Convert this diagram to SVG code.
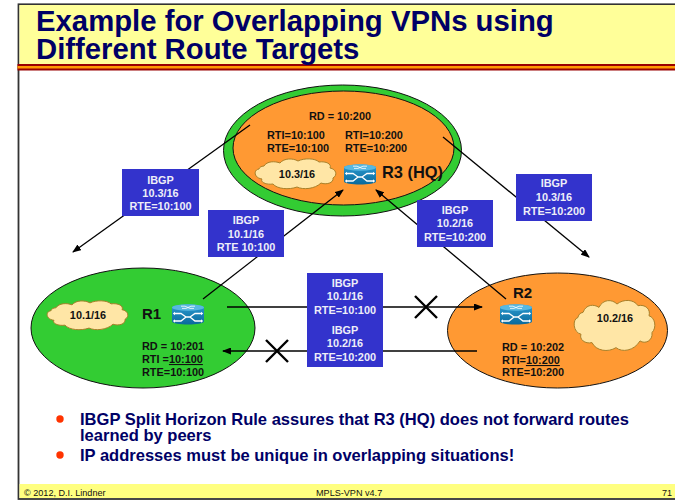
<svg xmlns="http://www.w3.org/2000/svg" width="675" height="502" viewBox="0 0 675 502">
<style>
text{font-family:"Liberation Sans",Arial,sans-serif;font-weight:bold}
.t{font-size:10.9px;fill:#111}
.w{font-size:10.9px;fill:#eeeef8;text-anchor:middle}
.c{text-anchor:middle}
.big{font-size:16.4px;fill:#111}
.r{font-size:15px;fill:#111}
.h{font-size:29.3px;fill:#000066}
.b{font-size:16.55px;fill:#000066}
.f{font-size:9.1px;font-weight:normal;fill:#111}
.e{stroke:#111;stroke-width:1}
.box{fill:#3333cc}
.l{stroke:#000;stroke-width:1.3;fill:none}
.x{stroke:#000;stroke-width:2.4;fill:none}
.cl{fill:#ffe6a6;stroke:#a8802a;stroke-width:1}
</style>
<defs>
<marker id="a" markerWidth="9" markerHeight="7" refX="8" refY="3.5" orient="auto" markerUnits="userSpaceOnUse"><path d="M0 0L9 3.5L0 7z" fill="#000"/></marker>
<linearGradient id="rg" x1="0" y1="0" x2="0" y2="1"><stop offset="0" stop-color="#2a9ad0"/><stop offset="1" stop-color="#0a6a9c"/></linearGradient>
<symbol id="router" viewBox="0 0 32 21" width="32" height="21" overflow="visible">
<path d="M0 3.5C0 -.5 32 -.5 32 3.5V17.500C32 21.500 0 21.500 0 17.500z" fill="url(#rg)"/>
<ellipse cx="16" cy="3.500" rx="16" ry="3.200" fill="#58b8e0"/>
<path d="M9 2.200H13L18 4.400H22M23 2.200H19L14 4.400H10" stroke="#fff" stroke-width=".8" fill="none"/>
<path d="M3 9.500H9L14 13L9 17H3M29 9.500H23L18 13L23 17H29M14 13H18" stroke="#fff" stroke-width="1.300" fill="none"/>
<path d="M3 7.800V11.200L.8 9.500zM3 15.300V18.700L.8 17zM29 7.800V11.200L31.200 9.500zM29 15.300V18.700L31.200 17z" fill="#fff"/>
</symbol>
<symbol id="cloud" viewBox="0 0 82 31" preserveAspectRatio="none" overflow="visible">
<path class="cl" vector-effect="non-scaling-stroke" d="M9 8C12 3 20 3 25 5C29 0 38 0 43 3C49 0 60 0 64 4C71 3 77 6 75 10C81 11 83 17 78 20C79 25 71 27 66 25C60 31 48 32 42 29C34 32 22 31 18 26C11 27 5 24 7 21C-1 20 -2 12 4 11C4 10 6 8 9 8z"/>
</symbol>
</defs>
<g id="frame">
<rect x="0" y="0" width="675" height="502" fill="#fff"/>
<rect x="18.500" y="4.300" width="670" height="494.700" fill="#fff" stroke="#333" stroke-width="1.800"/>
<rect x="19.500" y="5" width="656" height="59" fill="#ffff99"/>
<rect x="17.500" y="64" width="658" height="6.500" fill="#990000"/>
<rect x="17.500" y="66" width="658" height="2.500" fill="#ff9900"/>
<rect x="19.500" y="484" width="656" height="14" fill="#ffff80"/>
</g>
<g id="title">
<text class="h" x="36" y="31">Example for Overlapping VPNs using</text>
<text class="h" x="36" y="59">Different Route Targets</text>
</g>
<g id="node-r3">
<ellipse class="e" cx="342.500" cy="150.500" rx="119" ry="65.500" fill="#33cc33"/>
<ellipse class="e" cx="343.500" cy="148" rx="110.500" ry="57" fill="#ff9933"/>
<text class="t c" x="340" y="120">RD = 10:200</text>
<text class="t" x="267" y="139">RTI=10:100</text>
<text class="t" x="267" y="152">RTE=10:100</text>
<text class="t" x="345" y="139">RTI=10:200</text>
<text class="t" x="345" y="152">RTE=10:200</text>
<use href="#cloud" x="255" y="158" width="82" height="31"/>
<text class="t c" x="297" y="178">10.3/16</text>
<use href="#router" x="344" y="164"/>
<text class="big" x="382" y="178">R3 (HQ)</text>
</g>
<g id="node-r1">
<ellipse class="e" cx="143" cy="328" rx="112" ry="60" fill="#33cc33"/>
<use href="#cloud" x="47" y="300" width="82" height="30"/>
<text class="t c" x="88" y="319">10.1/16</text>
<text class="r" x="142" y="319">R1</text>
<use href="#router" x="172" y="304"/>
<text class="t" x="142" y="350">RD = 10:201</text>
<text class="t" x="142" y="363">RTI =<tspan text-decoration="underline">10:100</tspan></text>
<text class="t" x="142" y="376">RTE=10:100</text>
</g>
<g id="node-r2">
<ellipse class="e" cx="557.500" cy="330.500" rx="110" ry="57.500" fill="#ff9933"/>
<text class="r" x="513" y="298">R2</text>
<use href="#router" x="500" y="304"/>
<use href="#cloud" x="574" y="299" width="82" height="52"/>
<text class="t c" x="615" y="322">10.2/16</text>
<text class="t" x="502" y="351">RD = 10:202</text>
<text class="t" x="502" y="364">RTI=<tspan text-decoration="underline">10:200</tspan></text>
<text class="t" x="502" y="376">RTE=10:200</text>
</g>
<g id="connectors">
<path class="l" d="M250 125L73 252" marker-end="url(#a)"/>
<path class="l" d="M203 299L343 190" marker-end="url(#a)"/>
<path class="l" d="M506 299L376 190" marker-end="url(#a)"/>
<path class="l" d="M443 137L589 257" marker-end="url(#a)"/>
<path class="l" d="M227 307H482" marker-end="url(#a)"/>
<path class="l" d="M477 351H223" marker-end="url(#a)"/>
<path class="x" d="M415 296L437 318M437 296L415 318"/>
<path class="x" d="M266 340L288 362M288 340L266 362"/>
</g>
<g id="label-1">
<rect class="box" x="122" y="169" width="77" height="47"/>
<text class="w" x="160.500" y="184">IBGP</text><text class="w" x="160.500" y="197">10.3/16</text><text class="w" x="160.500" y="210">RTE=10:100</text>
</g>
<g id="label-2">
<rect class="box" x="208" y="210" width="76" height="47"/>
<text class="w" x="246" y="224">IBGP</text><text class="w" x="246" y="238">10.1/16</text><text class="w" x="246" y="251">RTE 10:100</text>
</g>
<g id="label-3">
<rect class="box" x="516" y="174" width="76" height="47"/>
<text class="w" x="554" y="187">IBGP</text><text class="w" x="554" y="201">10.3/16</text><text class="w" x="554" y="215">RTE=10:200</text>
</g>
<g id="label-4">
<rect class="box" x="417" y="200" width="76" height="47"/>
<text class="w" x="455" y="214">IBGP</text><text class="w" x="455" y="227">10.2/16</text><text class="w" x="455" y="241">RTE=10:200</text>
</g>
<g id="label-5">
<rect class="box" x="307" y="273" width="76" height="94"/>
<text class="w" x="345" y="287">IBGP</text><text class="w" x="345" y="300">10.1/16</text><text class="w" x="345" y="314">RTE=10:100</text>
<text class="w" x="345" y="334">IBGP</text><text class="w" x="345" y="347">10.2/16</text><text class="w" x="345" y="361">RTE=10:200</text>
</g>
<g id="bullets">
<circle cx="60" cy="419" r="3.700" fill="#ff3300"/>
<text class="b" x="80" y="425">IBGP Split Horizon Rule assures that R3 (HQ) does not forward routes</text>
<text class="b" x="80" y="441">learned by peers</text>
<circle cx="60" cy="455" r="3.700" fill="#ff3300"/>
<text class="b" x="80" y="461">IP addresses must be unique in overlapping situations!</text>
</g>
<g id="footer">
<text class="f" x="24" y="496">© 2012, D.I. Lindner</text>
<text class="f" x="316" y="496">MPLS-VPN v4.7</text>
<text class="f" x="662" y="496">71</text>
</g>
</svg>
